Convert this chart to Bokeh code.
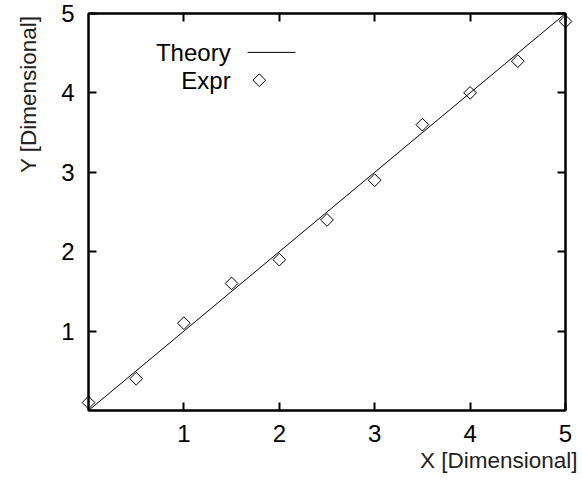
import numpy as np
from bokeh.plotting import figure
from bokeh.models import Range1d, FixedTicker, LinearAxis, Label, Title
from bokeh.embed import file_html
from bokeh.resources import INLINE

# data
theory_x = [0.0, 5.0]
theory_y = [0.0, 5.0]
expr_x = [0.0, 0.5, 1.0, 1.5, 2.0, 2.5, 3.0, 3.5, 4.0, 4.5, 5.0]
expr_y = [0.1, 0.4, 1.1, 1.6, 1.9, 2.4, 2.9, 3.6, 4.0, 4.4, 4.9]
ticks = [1, 2, 3, 4, 5]
series_names = ["Theory", "Expr"]
x_title = "X [Dimensional]"
y_title = "Y [Dimensional]"

FONT = "Liberation Sans"

p = figure(width=580, height=479, output_backend="svg", toolbar_location=None,
           x_range=Range1d(0, 5), y_range=Range1d(0, 5),
           x_axis_location=None, y_axis_location=None,
           min_border_left=88, min_border_right=15, min_border_top=13, min_border_bottom=69)
p.grid.visible = False
p.outline_line_color = "black"
p.outline_line_width = 2
p.background_fill_color = "white"
p.border_fill_color = "white"

def make_axis(labels=True):
    ax = LinearAxis(ticker=FixedTicker(ticks=ticks))
    ax.major_tick_in = 8
    ax.major_tick_out = 0
    ax.minor_tick_in = 0
    ax.minor_tick_out = 0
    ax.major_tick_line_width = 2
    ax.axis_line_width = 2
    ax.axis_line_color = "black"
    ax.major_tick_line_color = "black"
    ax.major_label_text_font = FONT
    ax.major_label_text_font_size = "24px"
    ax.major_label_text_color = "black"
    ax.major_label_standoff = 14
    if not labels:
        ax.major_label_text_font_size = "0px"
        ax.major_label_standoff = 0
        ax.major_label_text_alpha = 0
    return ax

p.add_layout(make_axis(True), "below")
left_axis = make_axis(True)
# invisible spacer label to push the Y title outward
left_axis.axis_label = " "
left_axis.axis_label_text_font_size = "1px"
left_axis.axis_label_standoff = 14
p.add_layout(left_axis, "left")
p.add_layout(make_axis(False), "above")
p.add_layout(make_axis(False), "right")

# axis titles as side-panel titles
p.add_layout(Title(text=x_title, align="right", offset=-12, standoff=3,
                   text_font=FONT, text_font_size="22.5px", text_font_style="normal",
                   text_color="#222222"), "below")
p.add_layout(Title(text=y_title, align="right", offset=2, standoff=0,
                   text_font=FONT, text_font_size="22.5px", text_font_style="normal",
                   text_color="#222222"), "left")

# theory line
p.line(theory_x, theory_y, line_color="black", line_width=1)
# experimental points
r = p.scatter(expr_x, expr_y, marker="square", size=9, angle=np.pi / 4,
              fill_color=None, line_color="black", line_width=1)
r.level = "overlay"

# legend (gnuplot style: text then sample)
p.add_layout(Label(x=1.49, y=4.51, text=series_names[0], text_align="right",
                   text_baseline="middle", text_font=FONT, text_font_size="24px",
                   text_color="black"))
p.add_layout(Label(x=1.49, y=4.16, text=series_names[1], text_align="right",
                   text_baseline="middle", text_font=FONT, text_font_size="24px",
                   text_color="black"))
p.line([1.667, 2.17], [4.51, 4.51], line_color="black", line_width=1)
p.scatter([1.79], [4.16], marker="square", size=9, angle=np.pi / 4,
          fill_color=None, line_color="black", line_width=1)

open("out.html", "w").write(file_html(p, INLINE))
